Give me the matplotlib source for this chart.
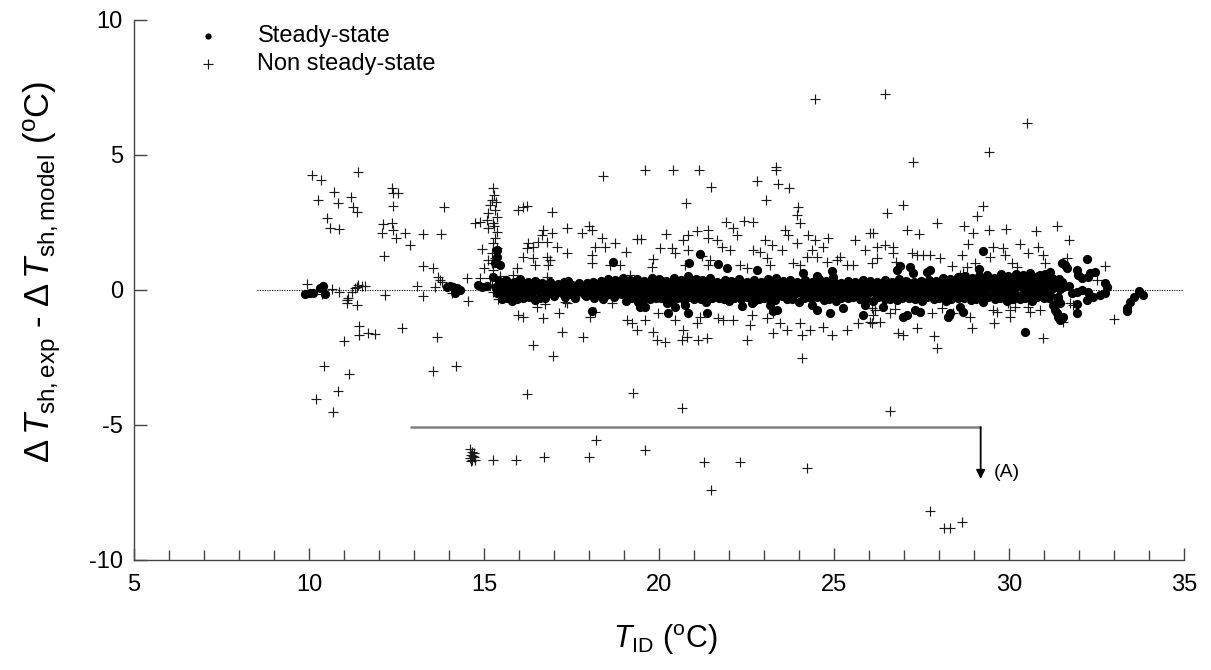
import matplotlib
matplotlib.use("Agg")
import matplotlib.pyplot as plt
from matplotlib.ticker import MultipleLocator

plt.rcParams['font.family'] = ['Liberation Sans', 'DejaVu Sans']
plt.rcParams['mathtext.fontset'] = 'custom'
plt.rcParams['mathtext.rm'] = 'Liberation Sans'
plt.rcParams['mathtext.it'] = 'Liberation Sans:italic'
plt.rcParams['mathtext.bf'] = 'Liberation Sans:bold'
plt.rcParams['axes.unicode_minus'] = False

# ---------------- Non steady-state (plus markers) ----------------
ns_x = [
    10.09, 10.33, 11.41, 10.72, 10.27, 11.20, 10.84, 11.25, 11.38, 10.51,
    10.60, 10.87, 12.36, 12.41, 12.55, 12.39, 13.86, 12.12, 12.36, 12.08,
    12.41, 12.74, 12.49, 12.89, 13.25, 13.77, 12.15, 13.26, 13.53, 13.68,
    13.74, 14.51, 14.89, 9.93, 10.65, 10.36, 10.87, 11.22, 11.36, 11.51,
    11.60, 11.08, 11.08, 11.36, 12.17, 13.08, 13.27, 13.60, 14.55, 14.08,
    11.44, 11.44, 11.69, 11.89, 11.01, 12.65, 13.65, 10.44, 11.14, 13.53,
    14.20, 10.82, 10.20, 10.69, 11.12, 11.31, 11.41, 13.79,
    # cluster near (14.7, -6.2)
    14.60, 14.65, 14.70, 14.62, 14.68, 14.72, 14.60, 14.66, 14.74, 14.64,
    # lower isolated
    15.25, 15.91, 16.71, 18.01, 18.20, 19.60, 21.29, 22.30, 21.49, 24.22,
    27.75, 28.15, 28.30, 28.65,
    # spike near 15.2
    15.27, 15.22, 15.34, 15.17, 15.31, 15.12, 15.36, 15.08, 14.89, 14.74,
    15.27, 15.12, 15.36, 15.31, 15.27, 14.93, 15.36, 15.22, 15.12, 15.31,
    15.00, 15.27, 15.17, 15.46, 15.22, 15.27, 15.29, 15.29, 15.23,
    # group 15.8 - 17.5
    15.98, 16.12, 16.22, 16.93, 17.38, 16.69, 16.93, 16.65, 16.27, 16.41,
    16.22, 16.55, 16.79, 17.08, 16.12, 16.41, 16.46, 16.79, 16.89, 16.84,
    17.38, 15.93, 15.84, 16.79,
    16.22, 16.41, 16.96, 17.22, 15.98, 16.12, 16.68, 17.15, 16.51, 16.74,
    17.36, 15.41,
    # 17.5 - 26.5 upper
    18.39, 19.60, 20.41, 21.15, 21.48, 20.77, 22.79, 23.34, 23.34, 23.41,
    23.72, 23.05, 23.98, 23.93, 24.03, 18.01, 18.08, 17.79, 18.36, 18.17,
    18.46, 18.09, 18.08, 18.74, 19.05, 19.36, 19.49, 20.19, 20.03, 20.36,
    20.46, 19.84, 20.69, 20.82, 21.08, 21.41, 20.84, 21.22, 21.41, 21.65,
    21.91, 22.11, 22.22, 22.44, 22.69, 21.79, 22.03, 22.69, 22.89, 23.03,
    23.22, 23.51, 23.60, 23.69, 23.93, 24.27, 24.46, 24.84, 24.36, 24.69,
    25.17, 25.60, 26.03, 25.89, 26.22,
    18.60, 18.89, 19.17, 19.79, 20.74, 21.46, 21.41, 22.31, 22.51, 23.08,
    23.17, 23.84, 24.03, 24.22, 24.51, 24.79, 25.08, 25.36, 25.55, 26.08,
    # 17 - 26 lower
    17.31, 18.03, 18.17, 18.65, 19.08, 19.22, 19.36, 19.60, 19.84, 19.93,
    20.17, 19.98, 20.46, 20.69, 20.65, 20.79, 21.08, 21.17, 21.12, 21.36,
    21.69, 21.84, 22.12, 22.51, 22.60, 22.65, 23.08, 23.27, 23.46, 23.65,
    23.27, 24.03, 24.08, 24.31, 24.69, 24.93, 25.36, 25.69, 26.08, 26.17,
    17.84, 24.08, 19.27, 20.65,
    # top outliers
    24.46, 26.45, 30.52, 29.42, 27.27,
    # 26 - 33 upper
    26.51, 26.96, 29.27, 29.09, 27.93, 27.08, 27.44, 28.71, 28.98, 29.44,
    29.91, 30.76, 31.36, 31.72, 26.12, 26.46, 26.69, 26.69, 26.22, 26.77,
    27.22, 27.36, 27.55, 27.74, 28.03, 28.84, 28.65, 29.03, 29.53, 29.46,
    29.84, 29.89, 30.31, 30.55, 30.84, 30.96, 30.08, 30.22, 31.03, 31.55,
    31.65, 32.74, 32.51, 28.36, 28.69, 28.60, 28.79,
    # 26 - 33 lower
    25.84, 26.08, 26.12, 26.03, 26.31, 26.60, 26.74, 26.84, 26.96, 27.38,
    27.86, 27.93, 27.79, 28.08, 28.41, 28.89, 28.93, 29.55, 29.65, 29.57,
    29.98, 30.03, 30.03, 30.17, 30.55, 30.60, 30.89, 30.96, 31.55, 31.74,
    31.84, 33.00, 26.60,
]
ns_y = [
    4.26, 4.07, 4.38, 3.64, 3.33, 3.46, 3.21, 3.06, 2.90, 2.65,
    2.28, 2.25, 3.77, 3.58, 3.58, 3.11, 3.06, 2.44, 2.47, 2.12,
    2.22, 2.10, 1.91, 1.67, 2.07, 2.07, 1.26, 0.89, 0.80, 0.49,
    0.37, 0.43, 0.46, 0.21, 0.02, -0.16, -0.06, -0.06, 0.12, 0.15,
    0.15, -0.37, -0.47, -0.56, -0.19, 0.15, -0.22, 0.12, -0.40, -0.12,
    -1.33, -1.67, -1.60, -1.63, -1.88, -1.40, -1.73, -2.80, -3.12, -3.00,
    -2.81, -3.73, -4.05, -4.51, -0.31, 0.06, 0.19, 0.31,
    -5.90, -6.00, -6.05, -6.10, -6.15, -6.20, -6.22, -6.28, -6.30, -6.35,
    -6.30, -6.28, -6.20, -6.20, -5.57, -5.91, -6.37, -6.37, -7.40, -6.60,
    -8.20, -8.80, -8.80, -8.60,
    3.77, 3.33, 3.27, 3.15, 2.96, 2.84, 2.71, 2.59, 2.53, 2.49,
    2.47, 2.28, 2.16, 1.91, 1.73, 1.51, 1.54, 1.36, 1.11, 1.17,
    0.80, 0.74, 0.43, 0.52, 0.19, -0.06, 3.52, 2.38, 1.00,
    2.96, 3.09, 3.11, 2.90, 2.31, 2.22, 2.10, 2.04, 1.73, 1.60,
    1.54, 1.79, 1.79, 1.60, 1.23, 1.17, 0.93, 1.23, 1.11, 0.93,
    1.36, 0.80, 0.56, 0.49,
    -3.86, -2.04, -2.44, -1.54, -0.93, -0.99, -1.02, -0.86, -0.62, -0.52,
    -0.49, -0.35,
    4.22, 4.44, 4.44, 4.44, 3.80, 3.23, 4.05, 4.57, 4.44, 3.91,
    3.79, 3.33, 3.09, 2.78, 2.47, 2.37, 2.22, 2.10, 1.91, 1.60,
    1.58, 1.30, 0.99, 1.73, 1.42, 1.88, 1.88, 2.07, 1.54, 1.54,
    1.36, 1.14, 1.85, 2.04, 2.20, 2.22, 1.48, 1.26, 1.91, 1.85,
    2.53, 2.28, 2.04, 2.56, 2.53, 1.60, 1.48, 1.48, 1.42, 1.85,
    1.67, 1.48, 2.22, 2.04, 1.73, 2.04, 1.85, 1.91, 1.48, 1.60,
    1.23, 1.85, 2.10, 1.48, 1.60,
    0.93, 0.93, 0.56, 0.86, 0.93, 1.11, 0.93, 0.93, 0.80, 1.17,
    0.93, 0.99, 0.93, 1.23, 1.23, 1.05, 1.11, 0.93, 0.93, 0.99,
    -0.43, -0.99, -0.80, -0.49, -1.11, -1.23, -1.48, -1.11, -1.54, -1.85,
    -1.91, -0.86, -1.11, -1.48, -1.85, -1.73, -1.23, -0.99, -1.85, -1.79,
    -1.05, -1.11, -1.11, -1.85, -1.30, -0.93, -1.05, -1.60, -1.23, -1.48,
    -0.86, -1.23, -1.67, -1.48, -1.36, -1.67, -1.48, -1.23, -1.23, -0.74,
    -1.73, -2.53, -3.83, -4.38,
    7.08, 7.25, 6.17, 5.10, 4.73,
    2.86, 3.15, 3.11, 2.74, 2.49, 2.22, 2.06, 2.38, 2.10, 2.22,
    2.25, 2.20, 2.37, 1.85, 2.12, 1.67, 1.60, 1.36, 1.17, 1.05,
    1.36, 1.30, 1.30, 1.30, 1.17, 1.70, 1.30, 0.99, 1.60, 1.23,
    1.54, 1.30, 1.70, 1.38, 1.60, 1.30, 0.99, 0.86, 0.99, 0.99,
    1.17, 0.89, 0.37, 0.89, 0.64, 0.56, 0.86,
    -0.49, -0.68, -0.93, -1.17, -1.17, -0.86, -0.72, -1.60, -1.67, -1.42,
    -1.70, -2.16, -0.86, -0.68, -0.86, -0.99, -1.42, -0.74, -0.80, -1.23,
    -0.49, -0.74, -1.01, -0.62, -0.62, -0.80, -0.74, -1.79, -1.17, -0.47,
    -0.56, -1.07, -4.47,
]

# ---------------- Steady-state (dots) ----------------
# band, upper row
ssA_x = [
    15.42, 15.63, 15.85, 16.04, 16.26, 16.47, 16.66, 16.88, 17.10, 17.29,
    17.52, 17.71, 17.93, 18.12, 18.34, 18.55, 18.74, 18.96, 19.17, 19.38,
    19.58, 19.80, 20.01, 20.20, 20.43, 20.62, 20.84, 21.05, 21.24, 21.46,
    21.67, 21.88, 22.07, 22.29, 22.50, 22.70, 22.91, 23.12, 23.33, 23.53,
    23.74, 23.95, 24.16, 24.37, 24.58, 24.78, 24.99, 25.20, 25.41, 25.61,
    25.82, 26.03, 26.24, 26.45, 26.66, 26.86, 27.07, 27.28, 27.49, 27.70,
    27.90, 28.11, 28.32, 28.53, 28.74, 28.94, 29.15, 29.36, 29.57, 29.78,
    29.98, 30.19, 30.40, 30.61, 30.82, 31.02, 31.23, 31.44,
]
ssA_y = [
    0.32, 0.38, 0.30, 0.42, 0.28, 0.35, 0.25, 0.30, 0.22, 0.28,
    0.20, 0.26, 0.24, 0.30, 0.34, 0.40, 0.36, 0.44, 0.38, 0.42,
    0.35, 0.46, 0.40, 0.33, 0.45, 0.38, 0.50, 0.42, 0.36, 0.44,
    0.30, 0.38, 0.34, 0.42, 0.31, 0.36, 0.28, 0.40, 0.45, 0.33,
    0.38, 0.30, 0.36, 0.28, 0.40, 0.34, 0.30, 0.26, 0.35, 0.30,
    0.38, 0.33, 0.28, 0.36, 0.30, 0.42, 0.34, 0.28, 0.32, 0.38,
    0.35, 0.44, 0.40, 0.48, 0.52, 0.45, 0.50, 0.55, 0.46, 0.58,
    0.52, 0.60, 0.55, 0.62, 0.50, 0.58, 0.45, 0.40,
]
# band, second row
ssF_x = [
    15.47, 15.68, 15.90, 16.10, 16.31, 16.52, 16.72, 16.93, 17.15, 17.35,
    17.57, 17.77, 17.98, 18.18, 18.40, 18.60, 18.80, 19.01, 19.22, 19.43,
    19.64, 19.85, 20.06, 20.26, 20.48, 20.68, 20.89, 21.10, 21.30, 21.51,
    21.72, 21.93, 22.13, 22.34, 22.55, 22.76, 22.96, 23.17, 23.38, 23.59,
    23.79, 24.00, 24.21, 24.42, 24.63, 24.84, 25.04, 25.25, 25.46, 25.67,
    25.87, 26.08, 26.29, 26.50, 26.71, 26.92, 27.12, 27.33, 27.54, 27.75,
    27.96, 28.16, 28.37, 28.58, 28.79, 29.00, 29.20, 29.41, 29.62, 29.83,
    30.04, 30.24, 30.45, 30.66, 30.87, 31.08, 31.28, 31.50,
]
ssF_y = [
    0.22, 0.18, 0.25, 0.20, 0.16, 0.24, 0.18, 0.15, 0.12, 0.18,
    0.10, 0.16, 0.12, 0.20, 0.22, 0.26, 0.24, 0.30, 0.26, 0.28,
    0.25, 0.30, 0.32, 0.24, 0.28, 0.30, 0.34, 0.28, 0.25, 0.30,
    0.22, 0.26, 0.28, 0.30, 0.22, 0.26, 0.20, 0.28, 0.30, 0.24,
    0.26, 0.22, 0.25, 0.20, 0.28, 0.24, 0.20, 0.18, 0.24, 0.22,
    0.26, 0.22, 0.18, 0.24, 0.20, 0.28, 0.24, 0.20, 0.22, 0.26,
    0.25, 0.30, 0.28, 0.34, 0.36, 0.32, 0.36, 0.40, 0.34, 0.42,
    0.38, 0.44, 0.40, 0.46, 0.38, 0.42, 0.35, 0.30,
]
# band, middle row
ssB_x = [
    15.33, 15.52, 15.74, 15.95, 16.15, 16.36, 16.57, 16.77, 16.99, 17.20,
    17.41, 17.62, 17.82, 18.03, 18.24, 18.45, 18.65, 18.86, 19.07, 19.28,
    19.48, 19.69, 19.90, 20.11, 20.32, 20.52, 20.73, 20.94, 21.15, 21.36,
    21.56, 21.77, 21.98, 22.19, 22.40, 22.60, 22.81, 23.02, 23.23, 23.44,
    23.64, 23.85, 24.06, 24.27, 24.48, 24.68, 24.89, 25.10, 25.31, 25.52,
    25.72, 25.93, 26.14, 26.35, 26.56, 26.76, 26.97, 27.18, 27.39, 27.60,
    27.80, 28.01, 28.22, 28.43, 28.64, 28.84, 29.05, 29.26, 29.47, 29.68,
    29.88, 30.09, 30.30, 30.51, 30.72, 30.92, 31.13, 31.34, 31.55, 31.70,
]
ssB_y = [
    0.10, 0.05, 0.15, 0.08, 0.12, 0.02, 0.10, 0.06, 0.04, 0.08,
    0.02, 0.06, 0.00, 0.08, 0.12, 0.05, 0.15, 0.10, 0.18, 0.12,
    0.08, 0.15, 0.20, 0.12, 0.10, 0.16, 0.08, 0.14, 0.18, 0.10,
    0.12, 0.06, 0.15, 0.10, 0.08, 0.16, 0.12, 0.05, 0.10, 0.14,
    0.08, 0.12, 0.06, 0.10, 0.14, 0.08, 0.04, 0.10, 0.06, 0.12,
    0.08, 0.14, 0.05, 0.10, 0.06, 0.12, 0.08, 0.04, 0.10, 0.12,
    0.15, 0.10, 0.18, 0.12, 0.20, 0.14, 0.22, 0.18, 0.15, 0.25,
    0.20, 0.28, 0.22, 0.30, 0.25, 0.20, 0.28, 0.18, 0.10, 0.15,
]
# band, near-zero row
ssG_x = [
    15.45, 15.65, 15.86, 16.07, 16.27, 16.48, 16.69, 16.89, 17.10, 17.31,
    17.53, 17.73, 17.94, 18.15, 18.36, 18.56, 18.77, 18.98, 19.19, 19.40,
    19.60, 19.81, 20.02, 20.23, 20.44, 20.64, 20.85, 21.06, 21.27, 21.48,
    21.68, 21.89, 22.10, 22.31, 22.52, 22.72, 22.93, 23.14, 23.35, 23.56,
    23.76, 23.97, 24.18, 24.39, 24.60, 24.80, 25.01, 25.22, 25.43, 25.64,
    25.84, 26.05, 26.26, 26.47, 26.68, 26.88, 27.09, 27.30, 27.51, 27.72,
    27.92, 28.13, 28.34, 28.55, 28.76, 28.96, 29.17, 29.38, 29.59, 29.80,
    30.00, 30.21, 30.42, 30.63, 30.84, 31.04, 31.25, 31.46,
]
ssG_y = [
    -0.02, 0.00, -0.05, 0.02, -0.03, 0.00, -0.06, 0.02, -0.04, 0.00,
    -0.05, -0.02, -0.06, 0.00, -0.03, 0.02, -0.04, 0.00, 0.03, -0.02,
    0.00, -0.05, 0.04, 0.00, -0.06, 0.02, -0.02, 0.00, 0.04, -0.03,
    0.00, -0.04, 0.02, -0.02, 0.00, -0.06, 0.02, -0.04, 0.00, -0.02,
    0.02, -0.03, 0.00, -0.05, 0.02, -0.02, -0.05, 0.00, -0.03, 0.02,
    -0.04, 0.00, -0.02, 0.03, -0.05, 0.00, -0.03, 0.02, -0.02, 0.00,
    0.02, -0.03, 0.04, 0.00, 0.05, -0.02, 0.03, 0.06, 0.00, 0.08,
    0.05, 0.10, 0.06, 0.12, 0.08, 0.04, 0.06, 0.02,
]
# band, lower row
ssC_x = [
    15.38, 15.58, 15.79, 16.00, 16.20, 16.41, 16.62, 16.82, 17.03, 17.24,
    17.46, 17.66, 17.87, 18.08, 18.29, 18.49, 18.70, 18.91, 19.12, 19.33,
    19.53, 19.74, 19.95, 20.16, 20.37, 20.57, 20.78, 20.99, 21.20, 21.41,
    21.61, 21.82, 22.03, 22.24, 22.45, 22.65, 22.86, 23.07, 23.28, 23.49,
    23.69, 23.90, 24.11, 24.32, 24.53, 24.73, 24.94, 25.15, 25.36, 25.57,
    25.77, 25.98, 26.19, 26.40, 26.61, 26.81, 27.02, 27.23, 27.44, 27.65,
    27.85, 28.06, 28.27, 28.48, 28.69, 28.89, 29.10, 29.31, 29.52, 29.73,
    29.93, 30.14, 30.35, 30.56, 30.77, 30.97, 31.18, 31.39,
]
ssC_y = [
    -0.12, -0.18, -0.10, -0.22, -0.15, -0.08, -0.20, -0.12, -0.16, -0.10,
    -0.14, -0.08, -0.16, -0.12, -0.10, -0.18, -0.06, -0.14, -0.10, -0.16,
    -0.20, -0.12, -0.08, -0.15, -0.22, -0.10, -0.16, -0.12, -0.20, -0.14,
    -0.10, -0.18, -0.12, -0.08, -0.16, -0.22, -0.14, -0.20, -0.12, -0.18,
    -0.15, -0.10, -0.20, -0.14, -0.08, -0.18, -0.12, -0.16, -0.10, -0.14,
    -0.20, -0.12, -0.16, -0.10, -0.18, -0.14, -0.08, -0.16, -0.12, -0.10,
    -0.14, -0.18, -0.10, -0.15, -0.08, -0.12, -0.20, -0.14, -0.18, -0.10,
    -0.15, -0.10, -0.18, -0.12, -0.16, -0.08, -0.20, -0.25,
]
# band, lower-edge rows
ssH_x = [
    15.65, 15.95, 16.28, 16.60, 17.00, 17.30, 17.90, 18.15, 18.70, 19.20,
    19.55, 19.90, 20.20, 20.50, 20.85, 21.20, 21.50, 21.85, 22.15, 22.50,
    22.85, 23.15, 23.50, 23.80, 24.15, 24.50, 24.85, 25.20, 25.55, 25.90,
    26.25, 26.60, 26.95, 27.30, 27.65, 28.00, 28.35, 28.70, 29.05, 29.40,
    29.75, 30.10, 30.45, 30.80, 31.15,
]
ssH_y = [
    -0.28, -0.32, -0.25, -0.30, -0.24, -0.26, -0.22, -0.28, -0.26, -0.30,
    -0.34, -0.28, -0.36, -0.30, -0.26, -0.32, -0.28, -0.35, -0.30, -0.26,
    -0.32, -0.28, -0.24, -0.34, -0.30, -0.26, -0.32, -0.28, -0.25, -0.30,
    -0.27, -0.33, -0.28, -0.35, -0.26, -0.30, -0.33, -0.28, -0.32, -0.26,
    -0.30, -0.34, -0.28, -0.25, -0.30,
]
ssD_x = [
    15.50, 15.80, 16.10, 16.45, 16.75, 17.60, 18.40, 19.05, 19.40, 19.75,
    20.05, 20.35, 20.70, 21.00, 21.35, 21.70, 22.00, 22.35, 22.70, 23.00,
    23.30, 23.65, 24.00, 24.35, 24.70, 25.05, 25.40, 25.75, 26.10, 26.45,
    26.80, 27.15, 27.50, 27.85, 28.20, 28.55, 28.90, 29.25, 29.60, 29.95,
    30.30, 30.65, 31.00,
]
ssD_y = [
    -0.35, -0.42, -0.30, -0.38, -0.28, -0.30, -0.32, -0.40, -0.45, -0.35,
    -0.30, -0.42, -0.38, -0.33, -0.45, -0.30, -0.40, -0.35, -0.42, -0.30,
    -0.38, -0.32, -0.44, -0.30, -0.36, -0.40, -0.30, -0.35, -0.42, -0.32,
    -0.38, -0.30, -0.40, -0.34, -0.42, -0.30, -0.36, -0.44, -0.32, -0.40,
    -0.35, -0.42, -0.30,
]
# scattered steady-state points outside the band
ssE_x = [
    9.89, 10.03, 10.12, 10.31, 10.39, 10.46,
    13.93, 14.03, 14.12, 14.22, 14.31, 14.17, 14.84, 14.93, 15.08,
    15.36, 15.31, 15.36, 15.27, 15.46,
    18.69, 17.41, 20.87, 21.17, 21.69, 21.95, 22.79, 24.12, 24.51, 24.93, 24.98,
    18.08, 19.55, 19.60, 19.46, 20.22, 20.27, 20.46, 20.84, 20.74, 21.36,
    22.36, 22.65, 23.17, 23.27, 23.36, 24.36, 24.51, 24.89, 25.27, 25.89,
    29.27, 29.15, 32.22, 32.46, 32.31, 32.27, 31.93, 31.98, 32.08, 31.51,
    31.60, 31.65, 32.74, 32.79, 32.74, 32.60, 32.41, 32.27, 32.08, 31.93,
    31.79, 32.22, 31.93, 31.93,
    33.36, 33.36, 33.46, 33.57, 33.72, 33.82, 30.46,
    31.31, 31.36, 31.41, 31.46, 31.51, 31.55, 31.27, 31.41, 31.46,
    26.41, 25.84, 26.98, 27.08, 27.31, 27.46, 28.27, 28.31, 28.60, 28.69,
    26.89, 26.79, 27.27, 27.65, 27.74, 27.17, 31.17, 30.89, 30.69,
]
ssE_y = [
    -0.16, -0.10, -0.10, 0.06, 0.15, -0.15,
    0.12, 0.15, 0.12, 0.06, 0.00, -0.12, 0.19, 0.12, 0.15,
    1.23, 0.99, 1.48, 0.49, 0.93,
    1.05, 0.33, 1.01, 1.33, 0.95, 0.80, 0.74, 0.62, 0.52, 0.72, 0.49,
    -0.77, -0.56, -0.62, -0.62, -0.49, -0.86, -0.62, -0.86, -0.56, -0.84,
    -0.59, -0.49, -0.56, -0.77, -0.74, -0.56, -0.74, -0.86, -0.68, -0.56,
    1.46, 0.77, 1.15, 0.68, 0.62, 0.49, 0.74, 0.56, 0.43, 0.99,
    0.93, 0.80, 0.27, 0.12, -0.12, -0.19, -0.25, -0.06, 0.00, -0.06,
    -0.12, -0.37, -0.52, -0.84,
    -0.68, -0.77, -0.46, -0.25, -0.03, -0.19, -1.57,
    -0.74, -0.86, -0.99, -1.11, -1.05, -0.99, -0.56, -0.37, -0.49,
    -0.62, -0.93, -0.99, -0.93, -0.74, -0.80, -0.99, -0.86, -0.62, -0.80,
    0.90, 0.74, 0.62, 0.68, 0.74, 0.86, 0.68, 0.56, 0.49,
]

ss_x = ssA_x + ssF_x + ssB_x + ssG_x + ssC_x + ssH_x + ssD_x + ssE_x
ss_y = ssA_y + ssF_y + ssB_y + ssG_y + ssC_y + ssH_y + ssD_y + ssE_y

# annotation (A)
ann_y = -5.08
ann_x0, ann_x1 = 12.88, 29.19
ann_tip = -7.0

xticks = [5, 10, 15, 20, 25, 30, 35]
yticks = [-10, -5, 0, 5, 10]

fig = plt.figure(figsize=(12.11, 6.70), dpi=100)
ax = fig.add_axes([0.1107, 0.1642, 0.8670, 0.8060])

ax.hlines(0, 8.5, 35, colors='black', linestyles=(0, (1, 1.2)), linewidth=0.8, zorder=1)

ax.scatter(ns_x, ns_y, marker='+', s=48, linewidths=0.85, color='#1a1a1a',
           label='Non steady-state', zorder=2)
ax.scatter(ss_x, ss_y, marker='o', s=44, linewidths=0, color='black',
           label='Steady-state', zorder=3)

ax.hlines(ann_y, ann_x0, ann_x1, colors='#808080', linewidth=1.8, zorder=4)
ax.annotate('', xy=(ann_x1, ann_tip), xytext=(ann_x1, ann_y),
            arrowprops=dict(arrowstyle='-|>', color='black', lw=1.3,
                            mutation_scale=13, shrinkA=0, shrinkB=0), zorder=4)
ax.text(ann_x1 + 0.38, -6.76, '(A)', fontsize=14, va='center', ha='left')

ax.set_xlim(5, 35)
ax.set_ylim(-10, 10)
ax.set_xticks(xticks)
ax.set_yticks(yticks)
ax.xaxis.set_minor_locator(MultipleLocator(1))

for s in ['top', 'right']:
    ax.spines[s].set_visible(False)
for s in ['left', 'bottom']:
    ax.spines[s].set_color('#444444')
    ax.spines[s].set_linewidth(1.0)

ax.tick_params(axis='both', which='major', direction='in', length=9, width=1,
               color='#444444', labelsize=17)
ax.tick_params(axis='x', which='minor', direction='in', length=7, width=1, color='#444444')
ax.tick_params(axis='x', which='major', pad=10)
ax.tick_params(axis='y', which='major', pad=8)

ax.set_xlabel(r'$\mathit{T}_{\rm ID}$ ($^{\rm o}$C)', fontsize=22)
ax.xaxis.set_label_coords(0.506, -0.115)
ax.set_ylabel(r'$\Delta\,\mathit{T}_{\rm sh,exp}$ - $\Delta\,\mathit{T}_{\rm sh,model}$ ($^{\rm o}$C)',
              fontsize=25)
ax.yaxis.set_label_coords(-0.068, 0.533)

h, l = ax.get_legend_handles_labels()
leg = ax.legend([h[1], h[0]], [l[1], l[0]], loc='upper left',
                bbox_to_anchor=(0.059, 0.99), frameon=False, fontsize=17,
                handlelength=1.0, handletextpad=1.6, labelspacing=0.25,
                borderpad=0, borderaxespad=0, scatterpoints=1)
leg.legend_handles[0].set_sizes([20])
leg.legend_handles[1].set_sizes([50])

fig.savefig('out.png', dpi=100)
